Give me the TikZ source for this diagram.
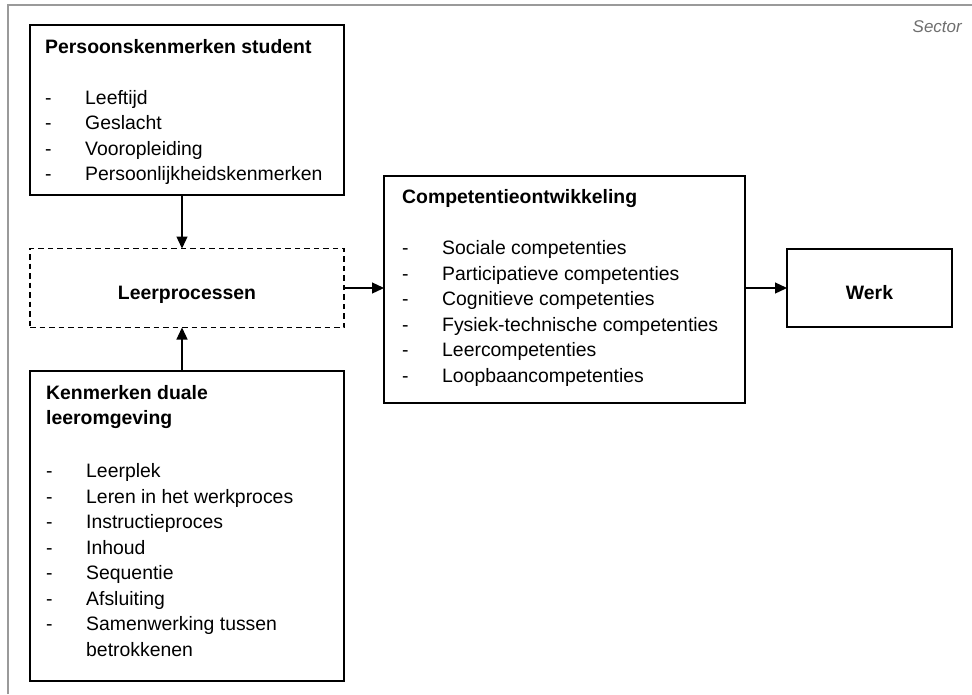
\documentclass[tikz,border=0pt]{standalone}
\usepackage{fontspec}
\setmainfont{Liberation Sans}
\usetikzlibrary{arrows.meta, positioning}
\definecolor{framegray}{HTML}{9A9A9A}
\definecolor{sectorgray}{HTML}{6E6E6E}
\definecolor{inkblack}{HTML}{000000}
\newcommand{\itm}[1]{\makebox[40pt][l]{-}#1}
\newcommand{\itmgap}{\makebox[40pt][l]{}}

\begin{document}
\begin{tikzpicture}[x=1pt, y=-1pt,
  >={Triangle[length=12pt, width=11pt]},
  box/.style={draw=inkblack, line width=1.4pt, anchor=north west,
              inner sep=0pt, outer sep=0pt},
  lbl/.style={font=\fontsize{19.4}{25.5}\selectfont\bfseries,
              text height=22pt, text depth=0pt},
  txt/.style={anchor=base west, inner sep=0pt,
              font=\fontsize{19.4}{25.5}\selectfont},
  arr/.style={inkblack, line width=1.3pt, ->}]

\useasboundingbox (0,0) rectangle (972,694);

% Frame (cut off at right and bottom)
\draw[framegray, line width=2pt] (7.5,694) -- (7.5,5) -- (972,5);
\node[text=sectorgray, font=\fontsize{17}{20}\selectfont\itshape,
      anchor=base east, inner sep=0pt] (sector) at (962,32) {Sector};

% ================================================================
% LEFT COLUMN
% ================================================================
\node[box, minimum width=314pt, minimum height=170pt] (pers) at (30,25) {};
\node[txt] (pers-txt) at ([shift={(15,28)}]pers.north west)
  {\begin{tabular}[t]{@{}l@{}}
   \textbf{Persoonskenmerken student}\\[25.5pt]
   \itm{Leeftijd}\\
   \itm{Geslacht}\\
   \itm{Vooropleiding}\\
   \itm{Persoonlijkheidskenmerken}
   \end{tabular}};

\node[box, lbl, dashed, dash pattern=on 5.5pt off 4pt, anchor=center,
      minimum width=314pt, minimum height=79pt] (leer) at (187,288)
  {Leerprocessen};

\node[box, minimum width=314pt, minimum height=310pt] (omg) at (30,371) {};
\node[txt] (omg-txt) at ([shift={(16,28)}]omg.north west)
  {\begin{tabular}[t]{@{}l@{}}
   \textbf{Kenmerken duale}\\
   \textbf{leeromgeving}\\[27.5pt]
   \itm{Leerplek}\\
   \itm{Leren in het werkproces}\\
   \itm{Instructieproces}\\
   \itm{Inhoud}\\
   \itm{Sequentie}\\
   \itm{Afsluiting}\\
   \itm{Samenwerking tussen}\\
   \itmgap betrokkenen
   \end{tabular}};

% ================================================================
% MIDDLE AND RIGHT
% ================================================================
\node[box, minimum width=361pt, minimum height=227pt] (comp) at (384,176) {};
\node[txt] (comp-txt) at ([shift={(18,27.5)}]comp.north west)
  {\begin{tabular}[t]{@{}l@{}}
   \textbf{Competentieontwikkeling}\\[25.5pt]
   \itm{Sociale competenties}\\
   \itm{Participatieve competenties}\\
   \itm{Cognitieve competenties}\\
   \itm{Fysiek-technische competenties}\\
   \itm{Leercompetenties}\\
   \itm{Loopbaancompetenties}
   \end{tabular}};

\node[box, lbl, anchor=center, minimum width=165pt, minimum height=78pt]
  (werk) at (869.5,288) {Werk};

% Arrows
\draw[arr] ([xshift=-5pt]pers.south) -- ([xshift=-5pt]leer.north);
\draw[arr] ([xshift=-5pt]omg.north) -- ([xshift=-5pt]leer.south);
\draw[arr] (leer.east) -- (leer.east -| comp.west);
\draw[arr] (comp.east |- werk.west) -- (werk.west);

\end{tikzpicture}
\end{document}
